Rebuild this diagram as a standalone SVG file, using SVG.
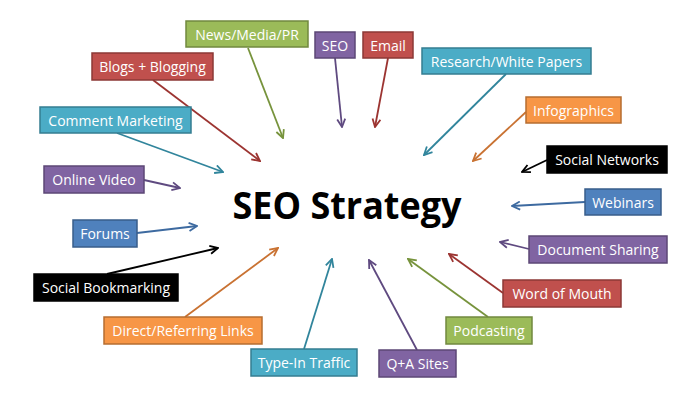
<svg xmlns="http://www.w3.org/2000/svg" width="690" height="400" viewBox="0 0 690 400">
<style>
.b{stroke-width:1.5}
.t{font-family:"Open Sans","Liberation Sans",sans-serif;font-size:14px;fill:#fff;text-anchor:middle}
.g{fill:#9bbb59;stroke:#71893f}
.p{fill:#8064a2;stroke:#5c4776}
.r{fill:#c0504d;stroke:#8c3836}
.c{fill:#4bacc6;stroke:#357d91}
.o{fill:#f79646;stroke:#b66d31}
.u{fill:#4f81bd;stroke:#385d8a}
.k{fill:#000;stroke:#000}
.l{fill:none;stroke-width:1.8}
</style>
<defs>
<marker id="mg" viewBox="0 0 10 10" refX="9" refY="5" markerWidth="10" markerHeight="10" markerUnits="userSpaceOnUse" orient="auto"><path d="M1,1 L9,5 L1,9" fill="none" stroke="#77933c" stroke-width="1.8"/></marker>
<marker id="mp" viewBox="0 0 10 10" refX="9" refY="5" markerWidth="10" markerHeight="10" markerUnits="userSpaceOnUse" orient="auto"><path d="M1,1 L9,5 L1,9" fill="none" stroke="#5f4a80" stroke-width="1.8"/></marker>
<marker id="mr" viewBox="0 0 10 10" refX="9" refY="5" markerWidth="10" markerHeight="10" markerUnits="userSpaceOnUse" orient="auto"><path d="M1,1 L9,5 L1,9" fill="none" stroke="#9c3431" stroke-width="1.8"/></marker>
<marker id="mc" viewBox="0 0 10 10" refX="9" refY="5" markerWidth="10" markerHeight="10" markerUnits="userSpaceOnUse" orient="auto"><path d="M1,1 L9,5 L1,9" fill="none" stroke="#31859c" stroke-width="1.8"/></marker>
<marker id="mo" viewBox="0 0 10 10" refX="9" refY="5" markerWidth="10" markerHeight="10" markerUnits="userSpaceOnUse" orient="auto"><path d="M1,1 L9,5 L1,9" fill="none" stroke="#c97232" stroke-width="1.8"/></marker>
<marker id="mu" viewBox="0 0 10 10" refX="9" refY="5" markerWidth="10" markerHeight="10" markerUnits="userSpaceOnUse" orient="auto"><path d="M1,1 L9,5 L1,9" fill="none" stroke="#3d6aa0" stroke-width="1.8"/></marker>
<marker id="mk" viewBox="0 0 10 10" refX="9" refY="5" markerWidth="10" markerHeight="10" markerUnits="userSpaceOnUse" orient="auto"><path d="M1,1 L9,5 L1,9" fill="none" stroke="#000" stroke-width="1.8"/></marker>
</defs>
<rect width="690" height="400" fill="#fff"/>
<g id="connectors" class="l">
<line x1="248" y1="48" x2="283" y2="138" stroke="#77933c" marker-end="url(#mg)"/>
<line x1="335" y1="58" x2="342" y2="127" stroke="#5f4a80" marker-end="url(#mp)"/>
<line x1="388" y1="58" x2="375" y2="127" stroke="#9c3431" marker-end="url(#mr)"/>
<line x1="506" y1="74" x2="424" y2="155" stroke="#31859c" marker-end="url(#mc)"/>
<line x1="526" y1="112" x2="473" y2="161" stroke="#c97232" marker-end="url(#mo)"/>
<line x1="547" y1="160" x2="522" y2="172" stroke="#000" marker-end="url(#mk)"/>
<line x1="585" y1="202" x2="512" y2="206" stroke="#3d6aa0" marker-end="url(#mu)"/>
<line x1="529" y1="249" x2="500" y2="242" stroke="#5f4a80" marker-end="url(#mp)"/>
<line x1="503" y1="293" x2="449" y2="254" stroke="#9c3431" marker-end="url(#mr)"/>
<line x1="488" y1="317" x2="408" y2="259" stroke="#77933c" marker-end="url(#mg)"/>
<line x1="417" y1="350" x2="369" y2="260" stroke="#5f4a80" marker-end="url(#mp)"/>
<line x1="304" y1="349" x2="332" y2="259" stroke="#31859c" marker-end="url(#mc)"/>
<line x1="185" y1="317" x2="278" y2="248" stroke="#c97232" marker-end="url(#mo)"/>
<line x1="107" y1="274" x2="218" y2="248" stroke="#000" marker-end="url(#mk)"/>
<line x1="137" y1="233" x2="197" y2="226" stroke="#3d6aa0" marker-end="url(#mu)"/>
<line x1="144" y1="180" x2="180" y2="188" stroke="#5f4a80" marker-end="url(#mp)"/>
<line x1="117" y1="133" x2="223" y2="172" stroke="#31859c" marker-end="url(#mc)"/>
<line x1="153" y1="80" x2="260" y2="161" stroke="#9c3431" marker-end="url(#mr)"/>
</g>
<g id="title"><text x="347" y="219" font-family="'Open Sans','Liberation Sans',sans-serif" font-weight="bold" font-size="37" text-anchor="middle" textLength="229" lengthAdjust="spacingAndGlyphs" fill="#000">SEO Strategy</text></g>
<g id="n1"><rect class="g b" x="186" y="21" width="122" height="26"/><text class="t" x="247" y="39.5">News/Media/PR</text></g>
<g id="n2"><rect class="p b" x="315" y="32" width="40" height="26"/><text class="t" x="335" y="50.5">SEO</text></g>
<g id="n3"><rect class="r b" x="363" y="32" width="50" height="26"/><text class="t" x="388" y="50.5">Email</text></g>
<g id="n4"><rect class="c b" x="422" y="48" width="169" height="26"/><text class="t" x="506.5" y="66.5">Research/White Papers</text></g>
<g id="n5"><rect class="o b" x="526" y="97" width="95" height="26"/><text class="t" x="573.5" y="115.5">Infographics</text></g>
<g id="n6"><rect class="k b" x="547" y="146" width="120" height="27"/><text class="t" x="607" y="165">Social Networks</text></g>
<g id="n7"><rect class="u b" x="585" y="189" width="76" height="26"/><text class="t" x="623" y="207.5">Webinars</text></g>
<g id="n8"><rect class="p b" x="529" y="236" width="138" height="27"/><text class="t" x="598" y="255">Document Sharing</text></g>
<g id="n9"><rect class="r b" x="503" y="280" width="118" height="27"/><text class="t" x="562" y="299">Word of Mouth</text></g>
<g id="n10"><rect class="g b" x="446" y="317" width="86" height="27"/><text class="t" x="489" y="336">Podcasting</text></g>
<g id="n11"><rect class="p b" x="379" y="350" width="77" height="27"/><text class="t" x="417.5" y="369">Q+A Sites</text></g>
<g id="n12"><rect class="c b" x="251" y="349" width="106" height="27"/><text class="t" x="304" y="368">Type-In Traffic</text></g>
<g id="n13"><rect class="o b" x="104" y="317" width="158" height="27"/><text class="t" x="183" y="336">Direct/Referring Links</text></g>
<g id="n14"><rect class="k b" x="34" y="274" width="144" height="27"/><text class="t" x="106" y="293">Social Bookmarking</text></g>
<g id="n15"><rect class="u b" x="73" y="220" width="64" height="27"/><text class="t" x="105" y="239">Forums</text></g>
<g id="n16"><rect class="p b" x="44" y="166" width="100" height="27"/><text class="t" x="94" y="185">Online Video</text></g>
<g id="n17"><rect class="c b" x="40" y="107" width="151" height="26"/><text class="t" x="115.5" y="125.5">Comment Marketing</text></g>
<g id="n18"><rect class="r b" x="92" y="53" width="121" height="27"/><text class="t" x="152.5" y="72">Blogs + Blogging</text></g>
</svg>
